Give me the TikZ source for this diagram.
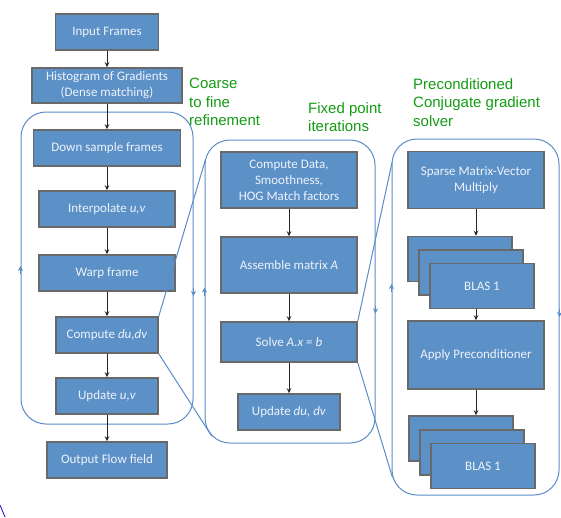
\documentclass[tikz,border=0pt]{standalone}
\usepackage{fontspec}
\setmainfont{Carlito}
\newfontfamily\arialfont{Liberation Sans}
\usepackage{tikz}
\usetikzlibrary{positioning,arrows.meta,calc}
\definecolor{boxblue}{RGB}{92,145,200}
\definecolor{boxedge}{RGB}{105,105,105}
\definecolor{grpblue}{RGB}{90,140,200}
\definecolor{lblgreen}{RGB}{20,155,20}
\definecolor{boxtext}{RGB}{238,242,250}

\begin{document}
\begin{tikzpicture}[
  x=1pt, y=-1pt,
  font=\fontsize{13}{16}\selectfont,
  blk/.style={draw=boxedge, line width=1.5pt, fill=boxblue, text=boxtext, align=center, inner sep=2pt},
  grp/.style={draw=grpblue, line width=1pt, rectangle, rounded corners=25pt, inner sep=0pt},
  grn/.style={text=lblgreen, font=\arialfont\fontsize{15}{18.5}\selectfont, align=left, anchor=north west, inner sep=0pt},
  arr/.style={-{Stealth[length=5pt,width=4.5pt]}, line width=0.8pt, draw=black!85},
  zoomln/.style={draw=grpblue, line width=1pt},
  loopmk/.style={-{Stealth[length=5pt,width=5pt]}, draw=grpblue, line width=1pt}
]
  \useasboundingbox (0,0) rectangle (561,517);

  % containers
  \node[grp, minimum width=172pt, minimum height=312pt] (c1) at (107,268) {};
  \node[grp, minimum width=170pt, minimum height=303pt] (c2) at (290,291.5) {};
  \node[grp, minimum width=167pt, minimum height=356pt] (c3) at (475.5,317) {};

  % labels
  \node[grn] (lcf) at (189,78) {Coarse\\to fine\\refinement};
  \node[grn] (lfp) at (308,102) {Fixed point\\iterations};
  \node[grn] (lpc) at (413,78) {Preconditioned\\Conjugate gradient\\solver};

  % outer loop
  \node[blk, minimum width=103pt, minimum height=36pt] (inp) at (107,32) {Input Frames};
  \node[blk, minimum width=150pt, minimum height=35pt] (hog) at (107,85.5) {Histogram of Gradients\\(Dense matching)};
  \node[blk, minimum width=147pt, minimum height=36pt] (down) at (107,148) {Down sample frames};
  \node[blk, minimum width=136pt, minimum height=36pt] (interp) at (107,209) {Interpolate \textit{u,v}};
  \node[blk, minimum width=136pt, minimum height=36pt] (warp) at (107,273) {Warp frame};
  \node[blk, minimum width=102pt, minimum height=36pt] (comp) at (107,335) {Compute \textit{du,dv}};
  \node[blk, minimum width=102pt, minimum height=36pt] (upd) at (107,396) {Update \textit{u,v}};
  \node[blk, minimum width=120pt, minimum height=36pt] (out) at (107,460) {Output Flow field};

  % fixed point
  \node[blk, minimum width=136pt, minimum height=56pt] (data) at (289,180) {Compute Data,\\Smoothness,\\HOG Match factors};
  \node[blk, minimum width=136pt, minimum height=56pt] (asm) at (289,265) {Assemble matrix \textit{A}};
  \node[blk, minimum width=136pt, minimum height=40pt] (solve) at (289,342) {Solve \textit{A.x} = \textit{b}};
  \node[blk, minimum width=102pt, minimum height=36pt] (upddu) at (289,412) {Update \textit{du, dv}};

  % conjugate gradient
  \node[blk, minimum width=136pt, minimum height=57pt] (spmv) at (476,180) {Sparse Matrix-Vector\\Multiply};
  \node[blk, minimum width=104pt, minimum height=45pt] (b1a) at (460,259) {};
  \node[blk, minimum width=104pt, minimum height=45pt] (b1b) at (471,272.5) {};
  \node[blk, minimum width=104pt, minimum height=45pt] (b1c) at (482,286) {BLAS 1};
  \node[blk, minimum width=136pt, minimum height=68pt] (apply) at (476,355) {Apply Preconditioner};
  \node[blk, minimum width=104pt, minimum height=45pt] (b2a) at (461,438.5) {};
  \node[blk, minimum width=104pt, minimum height=45pt] (b2b) at (472,452.5) {};
  \node[blk, minimum width=104pt, minimum height=45pt] (b2c) at (483,466) {BLAS 1};

  \draw[arr] (inp) -- (hog);
  \draw[arr] (hog) -- (down);
  \draw[arr] (down) -- (interp);
  \draw[arr] (interp) -- (warp);
  \draw[arr] (warp) -- (comp);
  \draw[arr] (comp) -- (upd);
  \draw[arr] (upd) -- (out);
  \draw[arr] (data) -- (asm);
  \draw[arr] (asm) -- (solve);
  \draw[arr] (solve) -- (upddu);
  \draw[arr] (spmv) -- (spmv |- b1a.north);
  \draw[arr] (b1c.south -| apply) -- (apply);
  \draw[arr] (apply) -- (apply |- b2a.north);

  % zoom lines
  \draw[zoomln] (comp.north east) -- ($(c2.north west)+(1,20)$);
  \draw[zoomln] (comp.south east) -- ($(c2.south west)+(7.3,-7.3)$);
  \draw[zoomln] (solve.north east) -- ($(c3.north west)+(0.5,24)$);
  \draw[zoomln] (solve.south east) -- ($(c3.south west)+(1,-18)$);

  % loop direction
  \draw[loopmk] ($(c1.west)+(0,6)$) -- ($(c1.west)+(0,-2)$);
  \draw[loopmk] ($(c1.east)+(0,20)$) -- ($(c1.east)+(0,28)$);
  \draw[loopmk] ($(c2.west)+(0,4)$) -- ($(c2.west)+(0,-4)$);
  \draw[loopmk] ($(c2.east)+(0,14)$) -- ($(c2.east)+(0,22)$);
  \draw[loopmk] ($(c3.west)+(0,-25)$) -- ($(c3.west)+(0,-33)$);
  \draw[loopmk] ($(c3.east)+(0,-8)$) -- ($(c3.east)+(0,0)$);

  \draw[draw=blue!70!violet, line width=0.8pt] (0,505) -- (5,517);
\end{tikzpicture}
\end{document}
